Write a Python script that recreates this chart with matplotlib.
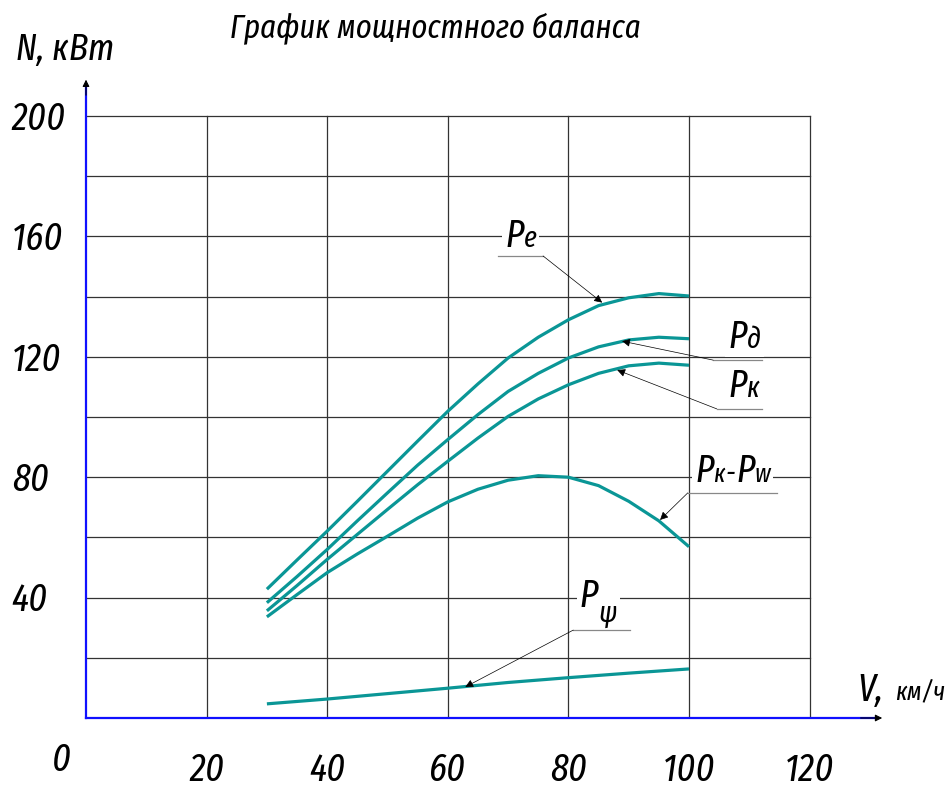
import numpy as np
import matplotlib
matplotlib.use('Agg')
import matplotlib.pyplot as plt
from matplotlib.patches import Rectangle
from matplotlib.transforms import Bbox

# speed, km/h
V = [30, 35, 40, 45, 50, 55, 60, 65, 70, 75, 80, 85, 90, 95, 100]
Pe = [42.8, 52.5, 62.1, 72.0, 82.0, 92.0, 101.9, 111.0, 119.6, 126.5, 132.3, 137.0, 139.6, 141.0, 140.2]
Pd = [38.3, 47.0, 56.0, 65.5, 74.8, 84.0, 92.5, 100.8, 108.5, 114.5, 119.6, 123.3, 125.6, 126.5, 126.0]
Pk = [35.6, 44.0, 52.7, 61.0, 69.3, 77.5, 85.3, 93.0, 100.2, 106.0, 110.7, 114.5, 117.0, 117.9, 117.2]
Pk_Pw = [33.6, 41.0, 48.3, 54.5, 60.4, 66.4, 71.8, 76.0, 79.0, 80.5, 80.0, 77.2, 72.0, 65.5, 56.9]
V_psi = [30, 40, 50, 60, 70, 80, 90, 100]
P_psi = [4.7, 6.3, 8.1, 9.9, 11.8, 13.4, 14.9, 16.3]

x_grid = [0, 20, 40, 60, 80, 100, 120]
y_grid = [0, 20, 40, 60, 80, 100, 120, 140, 160, 180, 200]
y_labels = [40, 80, 120, 160, 200]
x_labels = [20, 40, 60, 80, 100, 120]

plt.rcParams['font.family'] = ['Fira Sans Extra Condensed', 'DejaVu Sans']
font = dict(style='italic', weight='normal')
teal = '#0a9696'
FS = 28

fig = plt.figure(figsize=(9.48, 7.89), dpi=100)
ax = fig.add_axes([86 / 948, 71 / 789, 133 * 6.03 / 948, 213 * 3.01 / 789])
ax.set_xlim(0, 133)
ax.set_ylim(0, 213)
ax.axis('off')

# grid
for xg in x_grid[1:]:
    ax.plot([xg, xg], [0, 200], color='#333333', lw=0.9, zorder=1)
for yg in y_grid[1:]:
    ax.plot([0, 120], [yg, yg], color='#333333', lw=0.9, zorder=1)

# axes with arrows
ax.plot([0, 131], [0, 0], color='#1010ff', lw=1.6, clip_on=False, zorder=2)
ax.plot([0, 0], [0, 210], color='#1010ff', lw=1.6, clip_on=False, zorder=2)
ax.annotate('', xy=(132.5, 0), xytext=(128, 0),
            arrowprops=dict(arrowstyle='-|>', color='black', lw=0.8, mutation_scale=10), annotation_clip=False)
ax.annotate('', xy=(0, 213), xytext=(0, 206),
            arrowprops=dict(arrowstyle='-|>', color='black', lw=0.8, mutation_scale=10), annotation_clip=False)

# curves
for data in (Pe, Pd, Pk, Pk_Pw):
    ax.plot(V, data, color=teal, lw=2.3, zorder=3, solid_capstyle='butt', solid_joinstyle='round')
ax.plot(V_psi, P_psi, color=teal, lw=2.3, zorder=3, solid_capstyle='butt')

# tick labels
for yl in y_labels:
    ax.text(-12.3, yl - 1, str(yl), fontsize=FS, ha='left', va='center', clip_on=False, **font)
for xl in x_labels:
    ax.text(xl, -17.3, str(xl), fontsize=FS, ha='center', va='center', clip_on=False, **font)
ax.text(-4, -14, '0', fontsize=FS, ha='center', va='center', clip_on=False, **font)

# titles
fig.text(0.459, 0.965, 'График мощностного баланса', fontsize=24, ha='center', va='center', **font)
fig.text(0.069, 0.937, 'N, кВт', fontsize=27, ha='center', va='center', **font)
ax.text(128.0, 9.3, 'V,', fontsize=FS, ha='left', va='center', clip_on=False, **font)
ax.text(134.2, 8.5, 'км/ч', fontsize=19, ha='left', va='center', clip_on=False, **font)

renderer = fig.canvas.get_renderer()


def label(x, y, parts):
    off = 0.0
    boxes = []
    for s, size, dy in parts:
        t = ax.annotate(s, (x, y), xytext=(off, dy), textcoords='offset points',
                        fontsize=size, ha='left', va='baseline', zorder=6, **font)
        bb = t.get_window_extent(renderer)
        boxes.append(bb)
        off += bb.width * 72 / fig.dpi + 0.3
    # white patch behind the label breaks the grid line like in the drawing
    bb = Bbox.union(boxes).transformed(ax.transData.inverted())
    ax.add_patch(Rectangle((bb.x0 - 0.5, bb.y0 - 0.5), bb.width + 1.0, bb.height + 1.0,
                           fc='white', ec='none', zorder=3.5))


def leader(x0, x1, y, tip):
    ax.plot([x0, x1], [y, y], color='#888888', lw=0.9, zorder=4)
    ax.annotate('', xy=tip, xytext=(x0, y),
                arrowprops=dict(arrowstyle='-|>', color='black', lw=0.5, mutation_scale=12, shrinkA=0, shrinkB=0),
                zorder=5)


label(69.5, 156.5, [('P', FS, 0), ('e', 21, 0)])
leader(75.8, 68.3, 153.5, (85.6, 138.0))

label(106.5, 122.9, [('P', FS, 0), ('д', 21, 0)])
leader(104.0, 112.1, 118.9, (88.9, 125.2))

label(106.5, 106.6, [('P', FS, 0), ('к', 21, 0)])
leader(104.6, 112.1, 102.7, (88.1, 115.6))

label(101.0, 78.4, [('P', FS, 0), ('к', 19, 0), ('-', 21, 0), ('P', FS, 0), ('w', 19, 0)])
leader(99.8, 114.6, 74.8, (95.2, 65.8))

label(81.9, 36.9, [('P', FS, 0), ('ψ', 21, -11)])
leader(80.8, 90.2, 29.2, (62.9, 10.3))

fig.savefig('out.png', dpi=100)
